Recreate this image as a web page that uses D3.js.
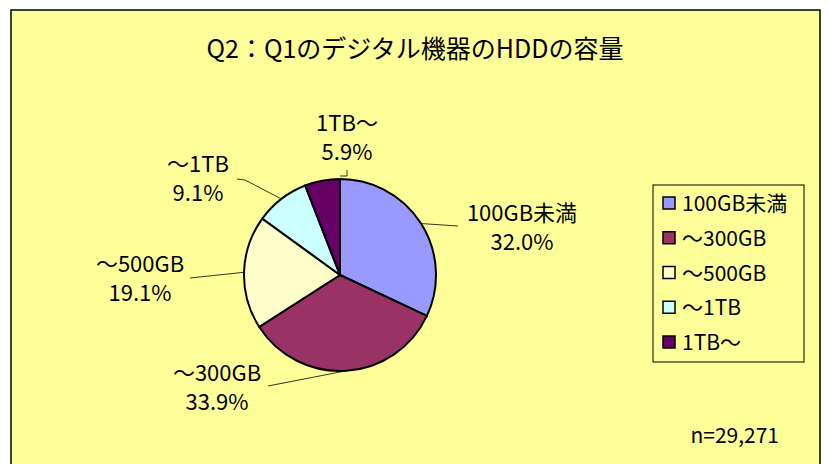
<!DOCTYPE html>
<html>
<head>
<meta charset="utf-8">
<script src="https://cdn.jsdelivr.net/npm/d3@7"></script>
<style>
  body{margin:0;background:#fff;}
  svg text{font-family:"Noto Sans CJK JP","Noto Sans",sans-serif;fill:#000;}
</style>
</head>
<body>
<div id="chart"></div>
<script>
// data
const categories = ["100GB未満","～300GB","～500GB","～1TB","1TB～"];
const shares = [32.0,33.9,19.1,9.1,5.9];
const colors = ["#9999FF","#993366","#FFFFCC","#CCFFFF","#660066"];
const title = "Q2：Q1のデジタル機器のHDDの容量";
const note = "n=29,271";

const w = 828, h = 464;
const cx = 340, cy = 275, r = 96;

// label placement (text centre x, first baseline) and leader start points
const labelPos = [[522,221],[217,381],[140,272],[198,172],[347,131]];
const leaderStart = [[[458,226]],[[268,386]],[[190,278]],[[237,179],[245,180]],[[347,170],[347,176],[340,176]]];

const svg = d3.select("#chart").append("svg")
  .attr("width",w).attr("height",h);

//chart area
svg.append("rect")
  .attr("x",11).attr("y",10).attr("width",809).attr("height",480)
  .attr("fill","#FFFF99").attr("stroke","#000").attr("stroke-width",1.5);

svg.append("text")
  .attr("x",415).attr("y",58)
  .attr("text-anchor","middle")
  .style("font-size","25px")
  .text(title);

const pie = d3.pie().sort(null).value(d=>d)(shares);
const arc = d3.arc().innerRadius(0).outerRadius(r);

const g = svg.append("g").attr("transform","translate("+cx+","+cy+")");
g.selectAll("path")
  .data(pie)
  .enter()
  .append("path")
  .attr("d",arc)
  .attr("fill",(d,i)=>colors[i])
  .attr("stroke","#000")
  .attr("stroke-width",2);

//leader lines: from label to the middle of the slice edge
const line = d3.line();
pie.forEach((d,i)=>{
  const a = (d.startAngle+d.endAngle)/2;
  const pts = leaderStart[i].slice();
  if(i!==4) pts.push([cx+r*Math.sin(a), cy-r*Math.cos(a)]);
  svg.append("path")
    .attr("d",line(pts))
    .attr("fill","none").attr("stroke","#000").attr("stroke-width",0.8);
});

//labels, two lines each
categories.forEach((c,i)=>{
  svg.append("text")
    .attr("x",labelPos[i][0]).attr("y",labelPos[i][1])
    .attr("text-anchor","middle")
    .style("font-size","22px")
    .text(c);
  svg.append("text")
    .attr("x",labelPos[i][0]).attr("y",labelPos[i][1]+29)
    .attr("text-anchor","middle")
    .style("font-size","22px")
    .text(shares[i].toFixed(1)+"%");
});

//legend
const legendY = d3.scalePoint().domain(categories).range([203,342]);
svg.append("rect")
  .attr("x",653).attr("y",185).attr("width",151).attr("height",177)
  .attr("fill","none").attr("stroke","#000").attr("stroke-width",1);
const legend = svg.append("g").selectAll("g")
  .data(categories).enter().append("g");
legend.append("rect")
  .attr("x",663).attr("y",d=>legendY(d)-6)
  .attr("width",12).attr("height",12)
  .attr("fill",(d,i)=>colors[i])
  .attr("stroke","#000").attr("stroke-width",1.5);
legend.append("text")
  .attr("x",682).attr("y",d=>legendY(d)+8)
  .style("font-size","21px")
  .text(d=>d);

svg.append("text")
  .attr("x",779).attr("y",443)
  .attr("text-anchor","end")
  .style("font-size","21px")
  .text(note);
</script>
</body>
</html>
